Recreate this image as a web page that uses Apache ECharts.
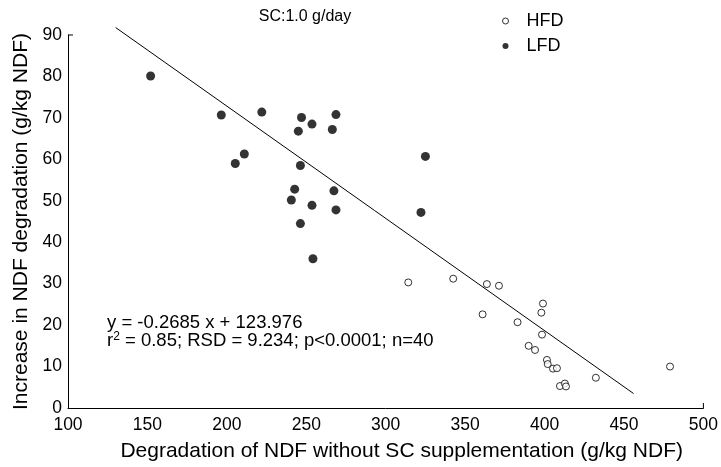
<!DOCTYPE html>
<html><head><meta charset="utf-8">
<script src="https://cdn.jsdelivr.net/npm/echarts@6/dist/echarts.min.js"></script>
<style>html,body{margin:0;padding:0;background:#fff}#c{width:721px;height:467px}</style>
</head><body><div id="c"></div>
<script>
// LFD points [x, y]
const lfdX = [152, 196.5, 222, 247, 253.6, 245, 268.7, 266.4, 211, 205.3, 246.3, 242.7, 240.6, 253.6, 267.4, 268.7, 246.3, 254.2, 325, 322.2];
const lfdY = [80.1, 70.7, 71.4, 70.1, 68.5, 66.8, 70.8, 67.2, 61.3, 59.0, 58.5, 52.8, 50.2, 48.9, 52.4, 47.8, 44.5, 36.0, 60.7, 47.2];
// HFD points
const hfdX = [314.2, 342.5, 363.7, 371.3, 361, 383, 390, 394, 398, 399, 398.4, 401.5, 402, 405.3, 407.8, 409.7, 412.8, 413.5, 432.3, 479];
const hfdY = [30.3, 31.2, 29.9, 29.5, 22.6, 20.7, 15, 14, 23, 25.2, 17.7, 11.6, 10.6, 9.5, 9.6, 5.3, 5.9, 5.2, 7.3, 10.0];
// regression line endpoints as drawn
const lineX = [130, 456];
const lineY = [91.8, 3.5];
const xTicks = {min: 100, max: 500, step: 50};
const yTicks = {min: 0, max: 90, step: 10};
const FONT = 'Liberation Sans';

const chart = echarts.init(document.getElementById('c'), null, {renderer: 'canvas'});
const zip = (a, b) => a.map((v, i) => [v, b[i]]);
chart.setOption({
  animation: false,
  backgroundColor: '#fff',
  textStyle: {fontFamily: FONT, color: '#000'},
  grid: {left: 68, right: 17, top: 35, bottom: 59},
  title: {text: 'SC:1.0 g/day', left: 300, top: 4, textAlign: 'center',
    textStyle: {fontFamily: FONT, fontSize: 16, fontWeight: 'normal', color: '#000'}},
  legend: {
    orient: 'vertical', left: 497, top: 7, itemGap: 7, itemWidth: 6, itemHeight: 6,
    textStyle: {fontFamily: FONT, fontSize: 18, color: '#000', padding: [0, 0, 0, 13]},
    data: [{name: 'HFD', icon: 'circle', itemStyle: {color: '#fff', borderColor: '#000', borderWidth: 1}},
           {name: 'LFD', icon: 'circle', itemStyle: {color: '#000'}}]
  },
  xAxis: {
    type: 'value', min: xTicks.min, max: xTicks.max, interval: xTicks.step,
    name: 'Degradation of NDF without SC supplementation (g/kg NDF)', nameLocation: 'middle', nameGap: 33,
    nameTextStyle: {fontFamily: FONT, fontSize: 21, color: '#000', padding: [0, 0, 0, 32]},
    axisLine: {lineStyle: {color: '#000', width: 1}},
    axisTick: {show: false}, splitLine: {show: false},
    axisLabel: {fontFamily: FONT, fontSize: 17.5, color: '#000', margin: 8}
  },
  yAxis: {
    type: 'value', min: yTicks.min, max: yTicks.max, interval: yTicks.step,
    name: 'Increase in NDF degradation (g/kg NDF)', nameLocation: 'middle', nameGap: 35,
    nameTextStyle: {fontFamily: FONT, fontSize: 21, color: '#000'},
    axisLine: {show: true, lineStyle: {color: '#000', width: 1}},
    axisTick: {show: false}, splitLine: {show: false},
    axisLabel: {fontFamily: FONT, fontSize: 17.5, color: '#000', margin: 6}
  },
  series: [
    {name: 'line', type: 'line', data: zip(lineX, lineY), symbol: 'none', silent: true, clip: false,
     lineStyle: {color: '#000', width: 1}, z: 1},
    {name: 'HFD', type: 'scatter', data: zip(hfdX, hfdY), symbol: 'circle', symbolSize: 7,
     itemStyle: {color: '#fff', borderColor: '#000', borderWidth: 1}, z: 3},
    {name: 'LFD', type: 'scatter', data: zip(lfdX, lfdY), symbol: 'circle', symbolSize: 9,
     itemStyle: {color: '#000'}, z: 3}
  ]
});
// equation text and end ticks
const p0 = chart.convertToPixel({gridIndex: 0}, [xTicks.min, yTicks.max]);
const p1 = chart.convertToPixel({gridIndex: 0}, [xTicks.max, yTicks.min]);
chart.setOption({
  graphic: [
    {type: 'text', left: 107, top: 313, style: {text: 'y = -0.2685 x + 123.976', fontFamily: FONT, fontSize: 18.5, fill: '#000'}},
    {type: 'text', left: 107, top: 331, style: {rich: {s: {fontSize: 12, verticalAlign: 'top', fontFamily: FONT, padding: [0, 0, 6, 0]}}, text: 'r{s|2} = 0.85; RSD = 9.234; p<0.0001; n=40', fontFamily: FONT, fontSize: 18.5, fill: '#000'}},
    {type: 'line', shape: {x1: p0[0], y1: p0[1], x2: p0[0] + 5, y2: p0[1]}, style: {stroke: '#000', lineWidth: 1}},
    {type: 'line', shape: {x1: p1[0], y1: p1[1], x2: p1[0], y2: p1[1] - 5}, style: {stroke: '#000', lineWidth: 1}}
  ]
});
</script></body></html>
